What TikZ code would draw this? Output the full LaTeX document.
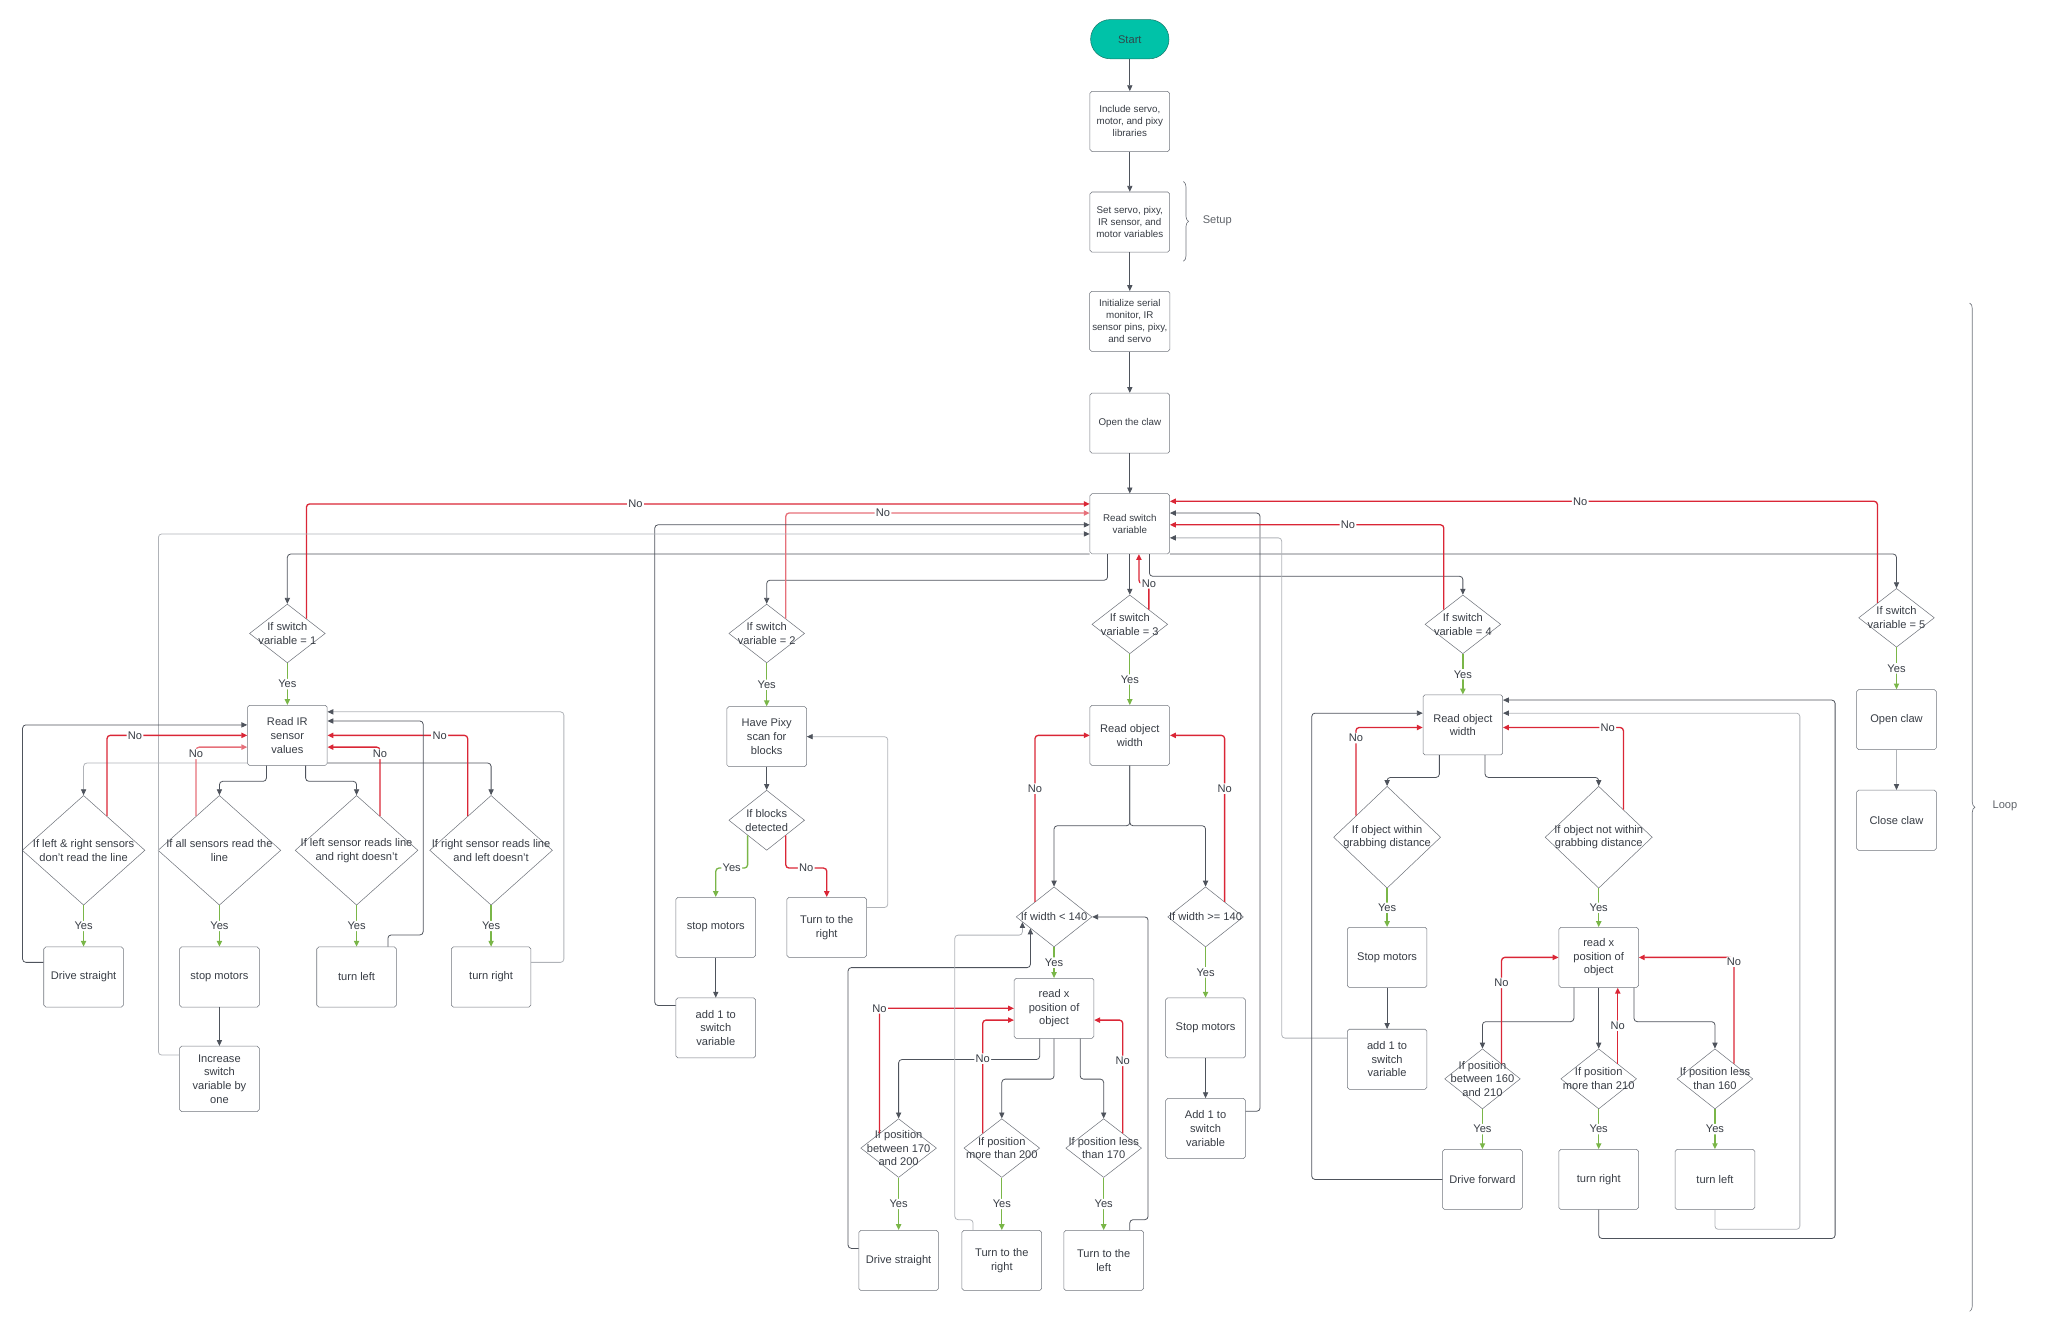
\documentclass[tikz,border=0pt]{standalone}
\usepackage{fontspec}
\setmainfont{Liberation Sans}
\usetikzlibrary{arrows.meta,shapes.geometric,calc,decorations.pathreplacing}

\definecolor{dline}{RGB}{78,83,92}
\definecolor{lline}{RGB}{176,179,184}
\definecolor{boxline}{RGB}{112,116,124}
\definecolor{nored}{RGB}{218,38,54}
\definecolor{nored2}{RGB}{230,112,122}
\definecolor{yesgreen}{RGB}{122,182,72}
\definecolor{txt}{RGB}{55,60,68}
\definecolor{startfill}{RGB}{0,194,168}
\definecolor{startline}{RGB}{20,120,105}

\newcommand\boxfont{\fontsize{8.5}{10.5}\selectfont}
\newcommand\topfont{\fontsize{7.5}{9.2}\selectfont}

\tikzset{
    box/.style={draw=boxline, rounded corners=1.5pt, minimum width=61pt, minimum height=46pt, inner sep=2pt, align=center, font=\boxfont, text=txt},
    topbox/.style={box, font=\topfont},
    start/.style={draw=startline, fill=startfill, rounded corners=15pt, minimum width=60pt, minimum height=30pt, font=\boxfont, text=txt!80!startline},
    dia/.style={diamond, draw=boxline, inner sep=0pt, minimum width=58pt, minimum height=45pt},
    bigdia/.style={dia, minimum width=94pt, minimum height=84pt},
    grabdia/.style={dia, minimum width=82pt, minimum height=78pt},
    dtx/.style={align=center, font=\boxfont, text=txt, inner sep=0pt},
    ln/.style={draw=dline, line width=.6pt, rounded corners=2.5pt, -{Triangle[length=4.5pt,width=4pt]}},
    lt/.style={ln, draw=lline, -{Triangle[length=4.5pt,width=4pt,color=dline]}},
    no/.style={ln, draw=nored, line width=1pt},
    nolight/.style={ln, draw=nored2, line width=1pt},
    yes/.style={ln, draw=yesgreen, line width=1pt},
    tag/.style={fill=white, inner sep=1pt, font=\boxfont, text=txt},
    note/.style={font=\boxfont, text=txt!80},
    brc/.style={draw=boxline, line width=.5pt, decorate, decoration={brace, amplitude=4pt}},
}

\begin{document}
\begin{tikzpicture}[x=1pt, y=-1pt]
        \useasboundingbox (0,0) rectangle (1568,1020);
        % setup
        \node [start] (start) at (865,30) {Start};
        \node [topbox] (inc) at (865,93) {Include servo,\\motor, and pixy\\libraries};
        \node [topbox] (vars) at (865,170) {Set servo, pixy,\\IR sensor, and\\motor variables};
        \node [topbox] (init) at (865,246) {Initialize serial\\monitor, IR\\sensor pins, pixy,\\and servo};
        \node [topbox] (open0) at (865,324) {Open the claw};
        \node [topbox] (rsw) at (865,401) {Read switch\\variable};
        \draw [brc] (906,139) -- (906,200);
        \node [note] (setup) at (932,169) {Setup};
        \draw [brc] (1508,232) -- (1508,1004);
        \node [note] (loop) at (1535,617) {Loop};

        % switch 1
        \node [dia, label={[dtx]center:{If switch\\variable = 1}}] (sw1) at (220,485) {};
        \node [box] (ir) at (220,563) {Read IR\\sensor\\values};
        \node [bigdia, label={[dtx]center:{If left \& right sensors\\don't read the line}}] (lr) at (64,651) {};
        \node [bigdia, label={[dtx]center:{If all sensors read the\\line}}] (all) at (168,651) {};
        \node [bigdia, label={[dtx]center:{If left sensor reads line\\and right doesn't}}] (lft) at (273,651) {};
        \node [bigdia, label={[dtx]center:{If right sensor reads line\\and left doesn't}}] (rgt) at (376,651) {};
        \node [box] (drive1) at (64,748) {Drive straight};
        \node [box] (stop1) at (168,748) {stop motors};
        \node [box] (tl1) at (273,748) {turn left};
        \node [box] (tr1) at (376,748) {turn right};
        \node [box, minimum height=50pt] (inc1) at (168,826) {Increase\\switch\\variable by\\one};

        % switch 2
        \node [dia, label={[dtx]center:{If switch\\variable = 2}}] (sw2) at (587,485) {};
        \node [box] (scan) at (587,564) {Have Pixy\\scan for\\blocks};
        \node [dia, minimum height=46pt, label={[dtx]center:{If blocks\\detected}}] (blk) at (587,628) {};
        \node [box] (stop2) at (548,710) {stop motors};
        \node [box] (turn2) at (633,710) {Turn to the\\right};
        \node [box] (add2) at (548,787) {add 1 to\\switch\\variable};

        % switch 3
        \node [dia, label={[dtx]center:{If switch\\variable = 3}}] (sw3) at (865,478) {};
        \node [box] (width3) at (865,563) {Read object\\width};
        \node [dia, minimum height=46pt, label={[dtx]center:{If width < 140}}] (lt140) at (807,702) {};
        \node [dia, minimum height=46pt, label={[dtx]center:{If width >= 140}}] (ge140) at (923,702) {};
        \node [box] (pos3) at (807,772) {read x\\position of\\object};
        \node [box] (stop3) at (923,787) {Stop motors};
        \node [box] (add3) at (923,864) {Add 1 to\\switch\\variable};
        \node [dia, label={[dtx]center:{If position\\between 170\\and 200}}] (mid3) at (688,879) {};
        \node [dia, label={[dtx]center:{If position\\more than 200}}] (more3) at (767,879) {};
        \node [dia, label={[dtx]center:{If position less\\than 170}}] (less3) at (845,879) {};
        \node [box] (fwd3) at (688,965) {Drive straight};
        \node [box] (right3) at (767,965) {Turn to the\\right};
        \node [box] (left3) at (845,965) {Turn to the\\left};

        % switch 4
        \node [dia, label={[dtx]center:{If switch\\variable = 4}}] (sw4) at (1120,478) {};
        \node [box] (width4) at (1120,555) {Read object\\width};
        \node [grabdia, label={[dtx]center:{If object within\\grabbing distance}}] (grab) at (1062,641) {};
        \node [grabdia, label={[dtx]center:{If object not within\\grabbing distance}}] (nograb) at (1224,641) {};
        \node [box] (stop4) at (1062,733) {Stop motors};
        \node [box] (add4) at (1062,811) {add 1 to\\switch\\variable};
        \node [box] (pos4) at (1224,733) {read x\\position of\\object};
        \node [dia, minimum height=46pt, label={[dtx]center:{If position\\between 160\\and 210}}] (mid4) at (1135,826) {};
        \node [dia, minimum height=46pt, label={[dtx]center:{If position\\more than 210}}] (more4) at (1224,826) {};
        \node [dia, minimum height=46pt, label={[dtx]center:{If position less\\than 160}}] (less4) at (1313,826) {};
        \node [box] (fwd4) at (1135,903) {Drive forward};
        \node [box] (right4) at (1224,903) {turn right};
        \node [box] (left4) at (1313,903) {turn left};

        % switch 5
        \node [dia, label={[dtx]center:{If switch\\variable = 5}}] (sw5) at (1452,473) {};
        \node [box] (open5) at (1452,551) {Open claw};
        \node [box] (close5) at (1452,628) {Close claw};

        % main line
        \draw [ln] (start) -- (inc);
        \draw [ln] (inc) -- (vars);
        \draw [ln] (vars) -- (init);
        \draw [ln] (init) -- (open0);
        \draw [ln] (open0) -- (rsw);
        \draw [ln] (rsw.south west) -| (sw1.north);
        \draw [ln] ([xshift=-17pt]rsw.south) -- ++(0,20) -| (sw2.north);
        \draw [ln] (rsw) -- (sw3);
        \draw [ln] ([xshift=15pt]rsw.south) -- ++(0,17) -| (sw4.north);
        \draw [ln] (rsw.south east) -| (sw5.north);
        \draw [no] (sw1.north east) |- node [tag, pos=.71] {No} ([yshift=-8pt]rsw.north west);
        \draw [nolight] (sw2.north east) |- node [tag, pos=.66] {No} ([yshift=-15pt]rsw.north west);
        \draw [ln] ([yshift=-6pt]add2.north west) -- ++(-16,0) |- ([yshift=-24pt]rsw.north west);
        \draw [lt] ([yshift=-7pt]inc1.north west) -- ++(-16,0) |- ([yshift=-31pt]rsw.north west);
        \draw [no] (sw3.north east) -- ++(0,-20) node [tag] {No} -| ([xshift=7pt]rsw.south);
        \draw [no] (sw5.north west) |- node [tag, pos=.71] {No} ([yshift=-6pt]rsw.north east);
        \draw [ln] ([yshift=-10pt]add3.north east) -- ++(11,0) |- ([yshift=-15pt]rsw.north east);
        \draw [no] (sw4.north west) |- node [tag, pos=.675] {No} ([yshift=-24pt]rsw.north east);
        \draw [lt] ([yshift=-7pt]add4.north west) -- ++(-50,0) |- ([yshift=-34pt]rsw.north east);

        % switch 1 lines
        \draw [yes] (sw1) -- node [tag] {Yes} (ir);
        \draw [lt] ([yshift=2pt]ir.south west) -| (lr.north);
        \draw [ln] ([xshift=-16pt]ir.south) -- ++(0,12) -| (all.north);
        \draw [ln] ([xshift=14pt]ir.south) -- ++(0,12) -| (lft.north);
        \draw [ln] ([yshift=2pt]ir.south east) -| (rgt.north);
        \draw [no] ($(lr.north)!.38!(lr.east)$) |- node [tag, pos=.6] {No} (ir.west);
        \draw [nolight] ($(all.north)!.38!(all.west)$) |- node [tag, pos=.45] {No} ([yshift=-9pt]ir.west);
        \draw [no] ($(lft.north)!.38!(lft.east)$) |- node [tag, pos=.45] {No} ([yshift=-9pt]ir.east);
        \draw [no] ($(rgt.north)!.38!(rgt.west)$) |- node [tag, pos=.6] {No} (ir.east);
        \draw [yes] (lr) -- node [tag] {Yes} (drive1);
        \draw [yes] (all) -- node [tag] {Yes} (stop1);
        \draw [yes] (lft) -- node [tag] {Yes} (tl1);
        \draw [yes] (rgt) -- node [tag] {Yes} (tr1);
        \draw [ln] (stop1) -- (inc1);
        \draw [ln] ([yshift=-12pt]drive1.north west) -- ++(-16,0) |- ([yshift=8pt]ir.west);
        \draw [ln] ([xshift=24pt]tl1.north) -- ++(0,-9) -- ++(27,0) |- ([yshift=11pt]ir.east);
        \draw [lt] ([yshift=-12pt]tr1.north east) -- ++(25,0) |- ([yshift=18pt]ir.east);

        % switch 2 lines
        \draw [yes] (sw2) -- node [tag] {Yes} (scan);
        \draw [ln] (scan) -- (blk);
        \draw [yes] (blk.south west) -- ++(0,25) -| node [tag, pos=.25] {Yes} (stop2.north);
        \draw [no] (blk.south east) -- ++(0,25) -| node [tag, pos=.25] {No} (turn2.north);
        \draw [ln] (stop2) -- (add2);
        \draw [lt] ([yshift=-8pt]turn2.north east) -- ++(16,0) |- (scan.east);

        % switch 3 lines
        \draw [yes] (sw3) -- node [tag] {Yes} (width3);
        \draw [ln] (width3.south) -- ++(0,46) -| (lt140.north);
        \draw [ln] (width3.south) -- ++(0,46) -| (ge140.north);
        \draw [no] (lt140.north west) |- node [tag, pos=.34] {No} (width3.west);
        \draw [no] (ge140.north east) |- node [tag, pos=.34] {No} (width3.east);
        \draw [yes] (lt140) -- node [tag] {Yes} (pos3);
        \draw [yes] (ge140) -- node [tag] {Yes} (stop3);
        \draw [ln] (stop3) -- (add3);
        \draw [ln] ([xshift=-11pt]pos3.south) -- ++(0,16) -| (mid3.north);
        \draw [ln] (pos3.south) -- ++(0,31) -| (more3.north);
        \draw [ln] ([xshift=20pt]pos3.south) -- ++(0,31) -| (less3.north);
        \draw [no] (mid3.north west) |- node [tag, pos=.5] {No} (pos3.west);
        \draw [no] (more3.north west) |- node [tag, pos=.33] {No} ([yshift=-9pt]pos3.west);
        \draw [no] (less3.north east) |- node [tag, pos=.32] {No} ([yshift=-9pt]pos3.east);
        \draw [yes] (mid3) -- node [tag] {Yes} (fwd3);
        \draw [yes] (more3) -- node [tag] {Yes} (right3);
        \draw [yes] (less3) -- node [tag] {Yes} (left3);
        \coordinate (in1) at ($(lt140.west)!.38!(lt140.south)$);
        \coordinate (in2) at ($(lt140.west)!.17!(lt140.south)$);
        \draw [ln] ([yshift=-14pt]fwd3.north west) -- ++(-8,0) |- ([yshift=-30pt]in1) -- (in1);
        \draw [lt] ([xshift=-22pt]right3.north) -- ++(0,-8) -- ++(-14,0) |- ([yshift=-10pt]in2) -- (in2);
        \draw [ln] ([xshift=20pt]left3.north) -- ++(0,-8) -- ++(14,0) |- (lt140.east);

        % switch 4 lines
        \draw [yes] (sw4) -- node [tag] {Yes} (width4);
        \draw [ln] ([xshift=-18pt]width4.south) -- ++(0,17) -| (grab.north);
        \draw [ln] ([xshift=17pt]width4.south) -- ++(0,17) -| (nograb.north);
        \draw [no] ($(grab.north)!.58!(grab.west)$) |- node [tag, pos=.44] {No} ([yshift=-2pt]width4.west);
        \draw [no] ($(nograb.north)!.46!(nograb.east)$) |- node [tag, pos=.565] {No} ([yshift=-2pt]width4.east);
        \draw [yes] (grab) -- node [tag] {Yes} (stop4);
        \draw [yes] (nograb) -- node [tag] {Yes} (pos4);
        \draw [ln] (stop4) -- (add4);
        \draw [ln] ([xshift=-19pt]pos4.south) -- ++(0,26) -| (mid4.north);
        \draw [ln] (pos4) -- (more4);
        \draw [ln] ([xshift=27pt]pos4.south) -- ++(0,26) -| (less4.north);
        \draw [no] (mid4.north east) |- node [tag, pos=.38] {No} (pos4.west);
        \draw [no] (more4.north east) -- node [tag] {No} (more4.north east |- pos4.south);
        \draw [no] (less4.north east) |- node [tag, pos=.48] {No} (pos4.east);
        \draw [yes] (mid4) -- node [tag] {Yes} (fwd4);
        \draw [yes] (more4) -- node [tag] {Yes} (right4);
        \draw [yes] (less4) -- node [tag] {Yes} (left4);
        \draw [ln] (fwd4.west) -- ++(-100,0) |- ([yshift=9pt]width4.west);
        \draw [ln] (right4.south) -- ++(0,22) -- ++(181,0) |- ([yshift=19pt]width4.east);
        \draw [lt] (left4.south) -- ++(0,15) -- ++(65,0) |- ([yshift=9pt]width4.east);

        % switch 5 lines
        \draw [yes] (sw5) -- node [tag] {Yes} (open5);
        \draw [lt] (open5) -- (close5);
    \end{tikzpicture}
\end{document}
